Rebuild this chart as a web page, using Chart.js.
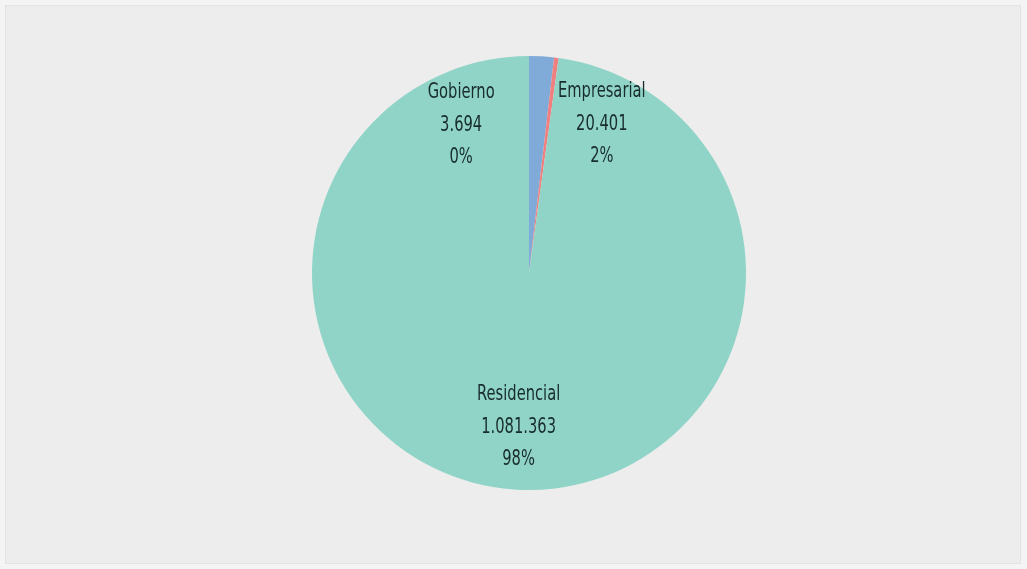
<!DOCTYPE html>
<html>
<head>
<meta charset="utf-8">
<script src="https://cdn.jsdelivr.net/npm/chart.js@4.4.1/dist/chart.umd.min.js"></script>
<style>
  html, body { margin: 0; padding: 0; background: #f4f4f4; }
  #wrap { position: relative; width: 1027px; height: 569px; }
  #frame { position: absolute; left: 5px; top: 5px; width: 1014px; height: 557px;
           background: #ededed; border: 1px solid #e3e3e3; }
  canvas { position: absolute; left: 0; top: 0; }
</style>
</head>
<body>
<div id="wrap">
  <div id="frame"></div>
  <canvas id="chart" width="1027" height="569"></canvas>
</div>
<script>
const categories = ['Empresarial', 'Gobierno', 'Residencial'];
const values = [20401, 3694, 1081363];
const colors = ['#80aad8', '#f08080', '#90d4c8'];

// label placement tweaks (Excel pushed the two small labels sideways)
const labelShiftX = [64, -87, 0];

const fmt = (n) => String(n).replace(/\B(?=(\d{3})+(?!\d))/g, '.');

// the original uses a narrow display face; squeeze a normal one to fake it
const squeeze = 0.7;

const pieLabels = {
  id: 'pieLabels',
  afterDatasetsDraw(chart) {
    const { ctx } = chart;
    const meta = chart.getDatasetMeta(0);
    const total = values.reduce((a, b) => a + b, 0);
    ctx.save();
    ctx.font = '21px "DejaVu Sans", sans-serif';
    ctx.fillStyle = '#182c2c';
    ctx.textAlign = 'center';
    ctx.textBaseline = 'middle';
    meta.data.forEach((arc, i) => {
      const p = arc.getProps(['x', 'y', 'startAngle', 'endAngle', 'outerRadius'], true);
      const mid = (p.startAngle + p.endAngle) / 2;
      const r = p.outerRadius * 0.7;
      const x = p.x + Math.cos(mid) * r + labelShiftX[i];
      const y = p.y + Math.sin(mid) * r + 3;
      const pct = Math.round(values[i] / total * 100) + '%';
      const lines = [categories[i], fmt(values[i]), pct];
      lines.forEach((t, k) => {
        ctx.save();
        ctx.translate(x, y + (k - 1) * 32.5);
        ctx.scale(squeeze, 1);
        ctx.fillText(t, 0, 0);
        ctx.restore();
      });
    });
    ctx.restore();
  }
};

new Chart(document.getElementById('chart'), {
  type: 'pie',
  data: {
    labels: categories,
    datasets: [{
      data: values,
      backgroundColor: colors,
      borderWidth: 0
    }]
  },
  options: {
    responsive: false,
    animation: false,
    layout: { padding: { left: 312, right: 281, top: 56, bottom: 79 } },
    plugins: {
      legend: { display: false },
      tooltip: { enabled: false }
    }
  },
  plugins: [pieLabels]
});
</script>
</body>
</html>
